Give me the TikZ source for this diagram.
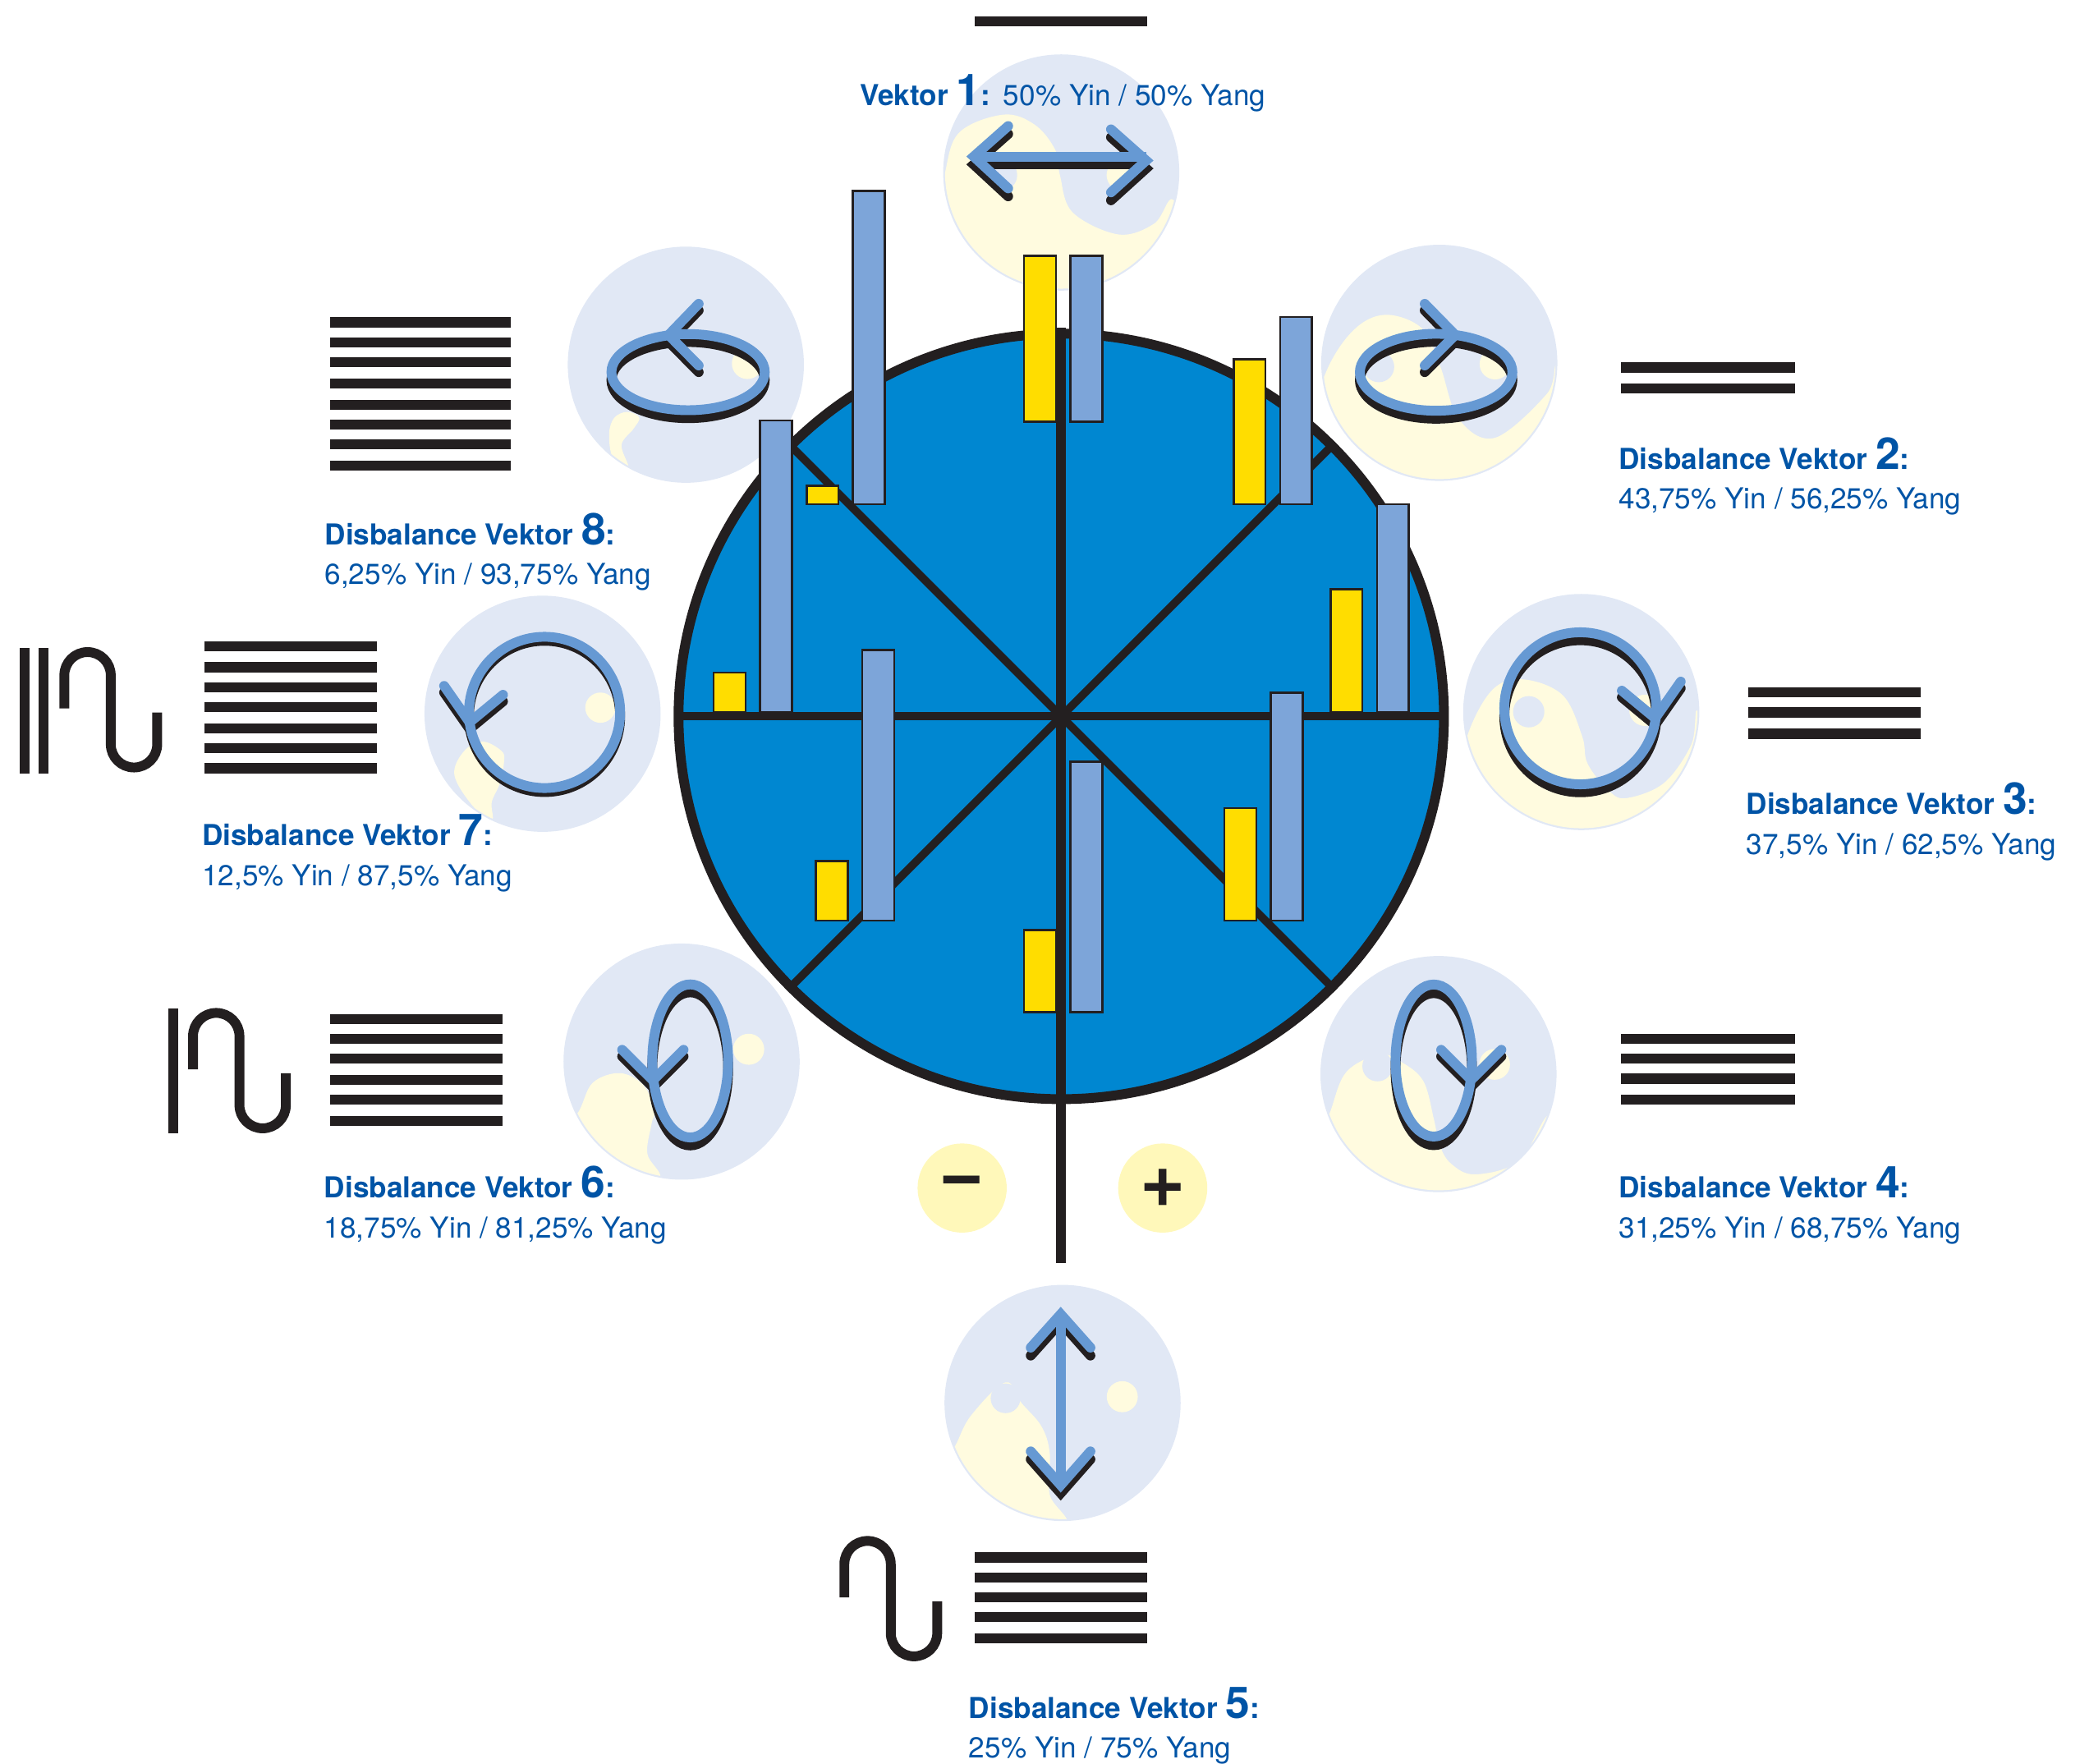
\documentclass[tikz,border=0pt]{standalone}
\usepackage{fontspec}
\usepackage{xcolor}
\setmainfont{TeX Gyre Heros}
\definecolor{inkblack}{HTML}{231F20}
\definecolor{wheelblue}{HTML}{0087D1}
\definecolor{barblue}{HTML}{7DA5D9}
\definecolor{baryellow}{HTML}{FFDD00}
\definecolor{yangpale}{HTML}{E1E8F5}
\definecolor{yinpale}{HTML}{FFFBDF}
\definecolor{signpale}{HTML}{FFF8BA}
\definecolor{vecblue}{HTML}{6699D3}
\definecolor{textblue}{HTML}{0054A6}
\tikzset{
	hexline/.style={draw=inkblack, line width=3.5pt},
	serpline/.style={draw=inkblack, line width=3.4pt},
	spoke/.style={draw=inkblack, line width=2.8pt},
	wheelrim/.style={draw=inkblack, line width=3.4pt, fill=wheelblue},
	yangdot/.style={fill=yangpale},
	yindot/.style={fill=yinpale},
	vecshadow/.style={draw=inkblack, line width=3.4pt, line cap=round, miter limit=10},
	vecfront/.style={draw=vecblue, line width=3.4pt, line cap=round, miter limit=10},
	yinbar/.style={draw=inkblack, line width=0.75pt, fill=baryellow},
	yangbar/.style={draw=inkblack, line width=0.75pt, fill=barblue},
	headtxt/.style={anchor=base west, inner sep=0pt, text=textblue, font=\bfseries\fontsize{10}{12}\selectfont},
	pcttxt/.style={anchor=base west, inner sep=0pt, text=textblue, font=\fontsize{10}{12}\selectfont},
	signtxt/.style={circle, minimum size=30.9pt, inner sep=0pt, fill=signpale, text=inkblack, font=\bfseries\fontsize{27}{27}\selectfont}
}
\newcommand{\bignum}[1]{{\fontsize{15.2}{15}\selectfont #1}}
\newcommand{\yydisc}[3]{%
	\coordinate (#1) at (#2);
	\fill[yangdot] (#1) circle (89);
	\begin{scope}
		\clip (#1) circle (87.6);
		\fill[yindot] plot[smooth cycle, tension=.6] coordinates {#3};
	\end{scope}
}
\newcommand{\ringvec}[5]{%
	\draw[vecshadow, shift={(0,#4)}] (#1) ellipse (#2 and #3);
	\draw[vecshadow, shift={(0,5)}] #5;
	\draw[vecfront] (#1) ellipse (#2 and #3);
	\draw[vecfront] #5;
}
\newcommand{\serpent}[1]{%
	\draw[serpline, shift={(#1)}] (0,46) -- (0,21) arc (180:360:17.5) -- (35,73) arc (180:0:17.5) -- (70,49);
}

\begin{document}
\begin{tikzpicture}[x=0.016154cm, y=-0.016154cm]
	\useasboundingbox (0,0) rectangle (1568,1329.65);

	\yydisc{d1}{800,130}{(756.4,86.4) (780,94) (795.5,113) (799,132) (808.5,160) (843,176.7) (870,168.6) (884.3,150.5) (895,190) (800,230) (705,175) (712,132) (723,100)}
	\fill[yangdot] (755,132) circle (11.8);
	\fill[yindot] (846,132) circle (11.8);

	\yydisc{d2}{1085,273.5}{(1044,237.3) (1072,247.6) (1085.8,276.5) (1099.6,315.7) (1127,330) (1166,297) (1173.7,276.5) (1185,330) (1085,372) (988,330) (998.7,282.7) (1019.5,249.7)}
	\fill[yangdot] (1039.4,276.5) circle (11.6);
	\fill[yindot] (1127,274.4) circle (11.6);

	\yydisc{d3}{1192,536.7}{(1148.3,512.1) (1178,524) (1192.7,555) (1196.8,575.7) (1213,596.3) (1226.7,601.5) (1254.6,590) (1275,561.2) (1279.8,536.5) (1292,600) (1192,636) (1098,600) (1106,555) (1125,520)}
	\fill[yangdot] (1152.4,536.5) circle (11.8);
	\fill[yindot] (1240,535.4) circle (11.8);

	\yydisc{d4}{1084.4,809.6}{(1040,795) (1056.5,800.6) (1073,815) (1081,844) (1085,862.5) (1093.7,877) (1112,885.2) (1145.3,875) (1169,839.8) (1182,880) (1085,908) (993,870) (1002.9,837.8) (1015,808)}
	\fill[yangdot] (1038.4,803.7) circle (11.4);
	\fill[yindot] (1126.7,802.3) circle (11.6);

	\yydisc{d5}{801,1057.5}{(758,1042) (770,1057.5) (785,1075) (791.3,1095) (791.3,1126.6) (803.7,1150) (760,1160) (708,1110) (720,1090) (732,1067)}
	\fill[yangdot] (758,1054) circle (11.2);
	\fill[yindot] (846,1052.8) circle (11.7);

	\yydisc{d6}{513.8,800.2}{(467.4,808.9) (485,818) (493.2,836.8) (491.2,847) (488,869.7) (497.3,888) (470,895) (424,860) (436.9,836.7) (447,816)}
	\fill[yindot] (564.4,790.9) circle (11.7);

	\yydisc{d7}{409,538}{(364,559) (378,566) (380,573.6) (377,590) (370.7,604.6) (370.7,618) (356,607) (342.5,584) (350,566)}
	\fill[yindot] (452.6,533.4) circle (11.4);

	\yydisc{d8}{517,274.9}{(472.6,310.5) (481.9,314.7) (477.7,323) (468.5,335.3) (473.6,352) (462,345) (459.2,327) (463,315)}
	\fill[yindot] (563.4,274) circle (11.7);

	\draw[vecshadow, line cap=butt] (734,124) -- (864,124);
	\draw[vecshadow] (760,101) -- (734,124) -- (760,148);
	\draw[vecshadow] (837.5,103.5) -- (864,127) -- (837.5,151);
	\draw[vecfront, line cap=butt] (734,118) -- (864,118);
	\draw[vecfront] (760,95) -- (734,118) -- (760,142);
	\draw[vecfront] (837.5,97.5) -- (864,121) -- (837.5,145);

	\ringvec{1082.6,280.6}{57.5}{29}{6}{(1074,229) -- (1097,252.5) -- (1074,275.5)}
	\ringvec{1191.3,533.9}{57.3}{57.3}{6}{(1222.6,520.6) -- (1247.7,541.4) -- (1267,513.8)}
	\ringvec{1080.8,799.4}{28.8}{57.3}{6.5}{(1086.4,791.3) -- (1109,814) -- (1131.8,791.3)}
	\ringvec{520.3,799.7}{28.6}{57.7}{6}{(469,791.3) -- (492.2,814.4) -- (515.3,791.3)}
	\ringvec{410.5,537}{57}{57}{3}{(379.2,523.7) -- (354,544.5) -- (334.8,517)}
	\ringvec{518.7,280.5}{57.8}{28.7}{6}{(526.7,229) -- (504,252.5) -- (526.7,275.5)}

	\draw[vecshadow] (777,1021.8) -- (799.6,996.6) -- (822,1021.8);
	\draw[vecshadow] (777,1100) -- (799.6,1125.5) -- (822,1100);
	\draw[vecfront, line cap=butt] (799.6,990) -- (799.6,1120);
	\draw[vecfront] (777,1015.8) -- (799.6,990.6) -- (822,1015.8);
	\draw[vecfront] (777,1094) -- (799.6,1119.5) -- (822,1094);

	\draw[wheelrim] (800,540) coordinate (hub) circle (288.5);
	\foreach \ang in {0,45,135,180,225,315}
		\draw[spoke] (hub) -- ++(\ang:289);
	\coordinate (hubtop) at (800,247);
	\coordinate (hubtail) at (800,952);
	\draw[serpline] (hubtop) -- (hubtail);

	\foreach \xa/\ya/\xb/\yb/\base in {772/193/807/193/318, 930/271/965/239/380, 1003/444/1038/380/537, 923/609/958/522/694, 772/701/807/574/763, 615/649/650/490/694, 538/507/573/317/537, 608/366/643/144/380} {
		\draw[yinbar] (\xa,\ya) rectangle (\xa+24,\base);
		\draw[yangbar] (\xb,\yb) rectangle (\xb+24,\base);
	}

	\node[signtxt] (minus) at (725.3,895.5) {−};
	\node[signtxt] (plus) at (876.5,895.5) {+};

	\foreach \yy in {16} \draw[hexline] (735,\yy) -- (865,\yy);
	\foreach \yy in {277,293} \draw[hexline] (1222,\yy) -- (1353,\yy);
	\foreach \yy in {522,537,553} \draw[hexline] (1318,\yy) -- (1448,\yy);
	\foreach \yy in {783,798,813,829} \draw[hexline] (1222,\yy) -- (1353,\yy);
	\foreach \yy in {1174,1189,1204,1219,1235} \draw[hexline] (735,\yy) -- (865,\yy);
	\foreach \yy in {768,783,798,814,829,845} \draw[hexline] (249,\yy) -- (379,\yy);
	\foreach \yy in {487,503,518,533,549,564,579} \draw[hexline] (154,\yy) -- (284,\yy);
	\foreach \yy in {243,258,273,289,305,320,335,351} \draw[hexline] (249,\yy) -- (385,\yy);

	\serpent{636.5,1158}
	\serpent{145.5,760}
	\serpent{48.5,488}
	\draw[serpline] (130.5,760) -- (130.5,854);
	\draw[serpline] (18.5,488.6) -- (18.5,583);
	\draw[serpline] (33,488.6) -- (33,583);

	\node[headtxt] (h1) at (648,79.5) {Vektor \bignum{1}:};
	\node[pcttxt] (p1) at (756,79.5) {50\% Yin / 50\% Yang};
	\foreach \n/\xx/\yy/\pct in {2/1220/353.5/{43,75\% Yin / 56,25\% Yang}, 3/1316/614/{37,5\% Yin / 62,5\% Yang}, 4/1220/903/{31,25\% Yin / 68,75\% Yang}, 5/730/1295/{25\% Yin / 75\% Yang}, 6/244/903/{18,75\% Yin / 81,25\% Yang}, 7/152/637.5/{12,5\% Yin / 87,5\% Yang}, 8/244.5/410.6/{6,25\% Yin / 93,75\% Yang}} {
		\node[headtxt] (h\n) at (\xx,\yy) {Disbalance Vektor \bignum{\n}:};
		\node[pcttxt] (p\n) at (\xx,\yy+30) {\pct};
	}
\end{tikzpicture}
\end{document}
